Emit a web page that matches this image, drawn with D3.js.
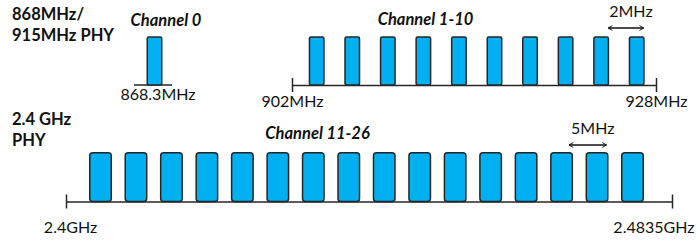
<!DOCTYPE html>
<meta charset="utf-8">
<script src="https://d3js.org/d3.v7.min.js"></script>
<style>
  body { margin: 0; background: #fff; }
  text { font-family: Lato, "Open Sans", sans-serif; fill: #111; }
</style>
<div id="chart"></div>
<script>
// data: channel center frequencies (MHz) per band
var subGhzName = ["868MHz/", "915MHz PHY"];
var ch0 = [868.3];
var ch1to10 = [906, 908, 910, 912, 914, 916, 918, 920, 922, 924];
var ghzName = ["2.4 GHz", "PHY"];
var ch11to26 = [2405, 2410, 2415, 2420, 2425, 2430, 2435, 2440, 2445, 2450, 2455, 2460, 2465, 2470, 2475, 2480];
var band915 = [902, 928];
var band24 = [2400, 2483.5];
var band915Labels = ["902MHz", "928MHz"];
var band24Labels = ["2.4GHz", "2.4835GHz"];
var groupTitles = ["Channel 0", "Channel 1-10", "Channel 11-26"];
var spacingLabels = ["2MHz", "5MHz"];

var W = 696, H = 241;
var blue = "#00b0f0", dark = "#262626";

var svg = d3.select("#chart").append("svg")
    .attr("width", W).attr("height", H);

var defs = svg.append("defs");
["start", "end"].forEach(function(k) {
  defs.append("marker")
      .attr("id", "arr-" + k)
      .attr("viewBox", "0 0 10 10")
      .attr("refX", k == "end" ? 9 : 1).attr("refY", 5)
      .attr("markerWidth", 6).attr("markerHeight", 6)
      .attr("markerUnits", "userSpaceOnUse")
      .attr("orient", "auto")
    .append("path")
      .attr("d", k == "end" ? "M2,1 L9,5 L2,9" : "M8,1 L1,5 L8,9")
      .attr("fill", "none").attr("stroke", "#111").attr("stroke-width", 1.6);
});

// schematic (piecewise) frequency scales
var x0 = d3.scaleLinear().domain([868, 868.6]).range([150.5, 158.5]);
var x1 = d3.scaleLinear()
    .domain([band915[0], ch1to10[0], ch1to10[ch1to10.length - 1], band915[1]])
    .range([292, 316.7, 636.7, 656]);
var x2 = d3.scaleLinear()
    .domain([band24[0], ch11to26[0], ch11to26[ch11to26.length - 1], band24[1]])
    .range([66, 100.5, 632.5, 672]);

var row1 = {top: 37, base: 85}, row2 = {top: 152.7, base: 201.5};

function bars(data, sc, row, w, rx) {
  svg.append("g").selectAll("rect")
    .data(data).enter().append("rect")
      .attr("x", function(d) { return sc(d) - w / 2; })
      .attr("y", row.top)
      .attr("width", w)
      .attr("height", row.base - row.top)
      .attr("rx", rx)
      .attr("fill", blue)
      .attr("stroke", dark)
      .attr("stroke-width", 1.5);
}

function axis(sc, domain, labels, row, labelDy) {
  var g = svg.append("g")
      .attr("transform", "translate(0," + row.base + ")")
      .call(d3.axisBottom(sc).tickValues(domain).tickSize(0).tickSizeOuter(0)
        .tickFormat(function(d, i) { return labels[i]; }));
  g.select(".domain").attr("stroke", dark).attr("stroke-width", 1.5);
  g.selectAll(".tick line").attr("y1", -7).attr("y2", 7)
      .attr("stroke", dark).attr("stroke-width", 1.5);
  g.selectAll(".tick text")
      .attr("y", labelDy).attr("dy", 0)
      .style("font-family", "Lato, sans-serif")
      .style("font-size", "16px")
      .attr("fill", "#111");
  return g;
}

// 868 MHz band
svg.append("line")
    .attr("x1", x0(868.3) - 20.5).attr("x2", x0(868.3) + 17.5)
    .attr("y1", row1.base).attr("y2", row1.base)
    .attr("stroke", dark).attr("stroke-width", 1.5);
bars(ch0, x0, row1, 14.5, 1.5);
svg.append("text").attr("x", x0(868.3) + 3.5).attr("y", 100)
    .attr("text-anchor", "middle").style("font-size", "16px")
    .text(ch0[0] + "MHz");

// 915 MHz band
axis(x1, band915, band915Labels, row1, 22);
bars(ch1to10, x1, row1, 14.5, 1.5);

// 2.4 GHz band
var g2 = axis(x2, band24, band24Labels, row2, 31.5);
g2.selectAll(".tick text").filter(function(d, i) { return i == 1; })
    .attr("text-anchor", "end").attr("x", 694 - x2(band24[1]));
g2.selectAll(".tick text").filter(function(d, i) { return i == 0; })
    .attr("x", 4);
bars(ch11to26, x2, row2, 21.5, 3);

// band names
function block(lines, y0, dy) {
  svg.append("text").attr("x", 12).attr("y", y0)
      .style("font-size", "16.5px").style("font-weight", 700)
    .selectAll("tspan").data(lines).enter().append("tspan")
      .attr("x", 12).attr("dy", function(d, i) { return i ? dy : 0; })
      .text(function(d) { return d; });
}
block(subGhzName, 20, 21);
block(ghzName, 125, 21);

// group titles
var titlePos = [[166, 26], [425.5, 25], [317.5, 139]];
svg.append("g").selectAll("text").data(groupTitles).enter().append("text")
    .attr("x", function(d, i) { return titlePos[i][0]; })
    .attr("y", function(d, i) { return titlePos[i][1]; })
    .attr("text-anchor", "middle")
    .style("font-size", "16.5px").style("font-weight", 700).style("font-style", "italic")
    .text(function(d) { return d; });

// spacing arrows
var arrows = [
  {x1: x1(ch1to10[8]) + 7, x2: x1(ch1to10[9]) + 7, y: 28, ty: 17, label: spacingLabels[0]},
  {x1: x2(ch11to26[13]) + 7.5, x2: x2(ch11to26[14]) + 9.5, y: 145, ty: 134, label: spacingLabels[1]}
];
arrows.forEach(function(a) {
  svg.append("line")
      .attr("x1", a.x1).attr("x2", a.x2).attr("y1", a.y).attr("y2", a.y)
      .attr("stroke", "#111").attr("stroke-width", 1.5)
      .attr("marker-start", "url(#arr-start)").attr("marker-end", "url(#arr-end)");
  svg.append("text").attr("x", (a.x1 + a.x2) / 2 + 5).attr("y", a.ty)
      .attr("text-anchor", "middle").style("font-size", "16px")
      .text(a.label);
});
</script>
